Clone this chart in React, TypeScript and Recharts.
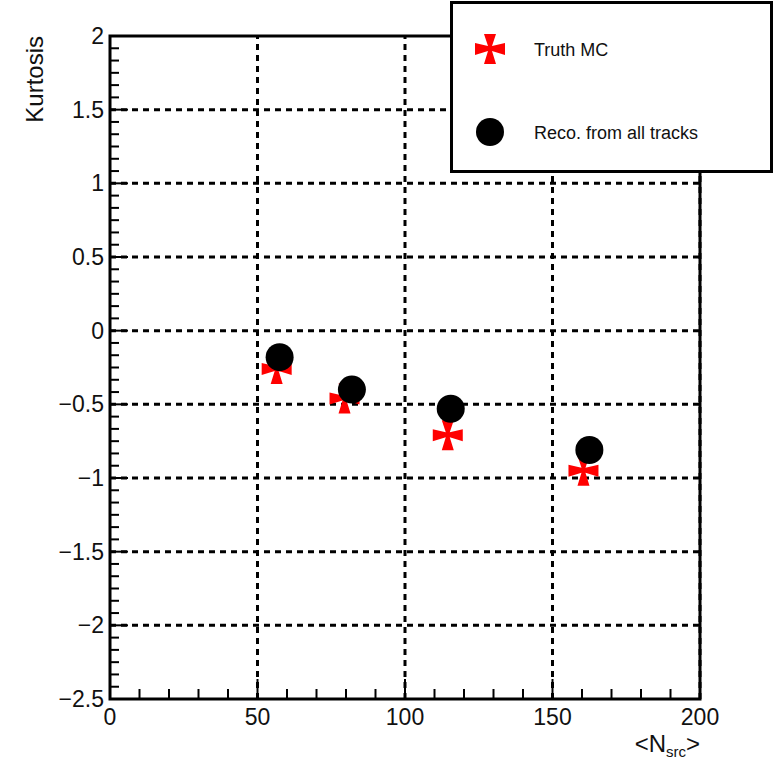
import React from 'react';
import { ScatterChart, Scatter, XAxis, YAxis, ReferenceLine, ReferenceArea, Label } from 'recharts';

const truthX = [56.5, 79.5, 114.5, 160.5];
const truthY = [-0.26, -0.46, -0.71, -0.95];
const recoX = [57.5, 82, 115.5, 162.5];
const recoY = [-0.18, -0.40, -0.53, -0.81];

const xMajor = [0, 50, 100, 150, 200];
const yMajor = [-2.5, -2, -1.5, -1, -0.5, 0, 0.5, 1, 1.5, 2];
const xGrid = [50, 100, 150, 200];
const yGrid = [-2, -1.5, -1, -0.5, 0, 0.5, 1, 1.5];

const xMinorDiv = 5;
const yMinorDiv = 6;

const xTicks: number[] = [];
for (let i = 0; i < xMajor.length - 1; i++) {
  for (let k = 0; k < xMinorDiv; k++) xTicks.push(xMajor[i] + (k * (xMajor[i + 1] - xMajor[i])) / xMinorDiv);
}
xTicks.push(xMajor[xMajor.length - 1]);
const yTicks: number[] = [];
for (let i = 0; i < yMajor.length - 1; i++) {
  for (let k = 0; k < yMinorDiv; k++) yTicks.push(yMajor[i] + (k * (yMajor[i + 1] - yMajor[i])) / yMinorDiv);
}
yTicks.push(yMajor[yMajor.length - 1]);

const truthData = truthX.map((x, i) => ({ x, y: truthY[i] }));
const recoData = recoX.map((x, i) => ({ x, y: recoY[i] }));

const isMajor = (v: number, list: number[]) => list.some((m) => Math.abs(m - v) < 1e-6);
const fmt = (v: number) => (v < 0 ? '\u2212' + String(Math.abs(v)) : String(v));

const FONT = '"Liberation Sans", Arial, Helvetica, sans-serif';

const crossPath =
  'M -6 -15 L 6 -15 L 2 -3 L 15 -6 L 15 6 L 2 2 L 6 15 L -6 15 L -2 2 L -15 6 L -15 -6 L -2 -3 Z';

const CrossShape = (props: any) => {
  const { cx, cy } = props;
  return <path d={crossPath} transform={`translate(${cx},${cy})`} fill="#ff0000" />;
};
const CircleShape = (props: any) => {
  const { cx, cy } = props;
  return <circle cx={cx} cy={cy} r={14} fill="#000" />;
};

const renderYTick = (props: any) => {
  const { x, y, payload } = props;
  const v = payload.value;
  const major = isMajor(v, yMajor);
  return (
    <g key={'yt' + v}>
      <line x1={x} y1={y} x2={x + (major ? 18 : 9)} y2={y} stroke="#000" strokeWidth={2} />
      {major && (
        <text x={x - 6} y={y} dy={8} textAnchor="end" fontSize={23} fontFamily={FONT} fill="#111">
          {fmt(v)}
        </text>
      )}
    </g>
  );
};

const renderXTick = (props: any) => {
  const { x, y, payload } = props;
  const v = payload.value;
  const major = isMajor(v, xMajor);
  return (
    <g key={'xt' + v}>
      <line x1={x} y1={y} x2={x} y2={y - (major ? 20 : 10)} stroke="#000" strokeWidth={2} />
      {major && (
        <text x={x} y={y} dy={26} textAnchor="middle" fontSize={23} fontFamily={FONT} fill="#111">
          {fmt(v)}
        </text>
      )}
    </g>
  );
};

const renderYTitle = () => (
  <text
    x={43}
    y={36}
    transform="rotate(-90 43 36)"
    textAnchor="end"
    fontSize={24}
    fontFamily={FONT}
    fill="#111"
  >
    Kurtosis
  </text>
);

const renderXTitle = () => (
  <text x={700} y={752} textAnchor="end" fontSize={24} fontFamily={FONT} fill="#111">
    {'<N'}
    <tspan fontSize={15} dy={5}>
      src
    </tspan>
    <tspan dy={-5}>{'>'}</tspan>
  </text>
);

const LegendBox = () => (
  <div
    style={{
      position: 'absolute',
      left: 450,
      top: 1,
      width: 323,
      height: 172,
      border: '3px solid #000',
      boxSizing: 'border-box',
      background: '#fff',
      fontFamily: FONT,
    }}
  >
    <svg width={317} height={166} style={{ position: 'absolute', left: 0, top: 0 }}>
      <CrossShape cx={37} cy={45} />
      <text x={81} y={52} fontSize={18} fontFamily={FONT} fill="#111">
        Truth MC
      </text>
      <CircleShape cx={37} cy={128} />
      <text x={81} y={135} fontSize={18} fontFamily={FONT} fill="#111">
        Reco. from all tracks
      </text>
    </svg>
  </div>
);

export default function App() {
  return (
    <div style={{ position: 'absolute', left: 0, top: 0, width: 775, height: 759, background: '#fff' }}>
      <ScatterChart width={775} height={759} margin={{ top: 36, right: 75, bottom: 20, left: 50 }}>
        <XAxis
          type="number"
          dataKey="x"
          domain={[0, 200]}
          ticks={xTicks}
          interval={0}
          height={40}
          tickSize={0}
          tickMargin={0}
          tickLine={false}
          axisLine={false}
          tick={renderXTick}
          allowDataOverflow
        >
          <Label content={renderXTitle} />
        </XAxis>
        <YAxis
          type="number"
          dataKey="y"
          domain={[-2.5, 2]}
          ticks={yTicks}
          interval={0}
          width={60}
          tickSize={0}
          tickMargin={0}
          tickLine={false}
          axisLine={false}
          tick={renderYTick}
          allowDataOverflow
        >
          <Label content={renderYTitle} />
        </YAxis>
        {xGrid.map((v) => (
          <ReferenceLine key={'gx' + v} x={v} stroke="#000" strokeWidth={3} strokeDasharray="6 5" />
        ))}
        {yGrid.map((v) => (
          <ReferenceLine key={'gy' + v} y={v} stroke="#000" strokeWidth={3} strokeDasharray="6 5" />
        ))}
        <ReferenceArea x1={0} x2={200} y1={-2.5} y2={2} fill="none" fillOpacity={0} stroke="#000" strokeWidth={3} />
        <Scatter data={truthData} shape={<CrossShape />} isAnimationActive={false} />
        <Scatter data={recoData} shape={<CircleShape />} isAnimationActive={false} />
      </ScatterChart>
      <LegendBox />
    </div>
  );
}
